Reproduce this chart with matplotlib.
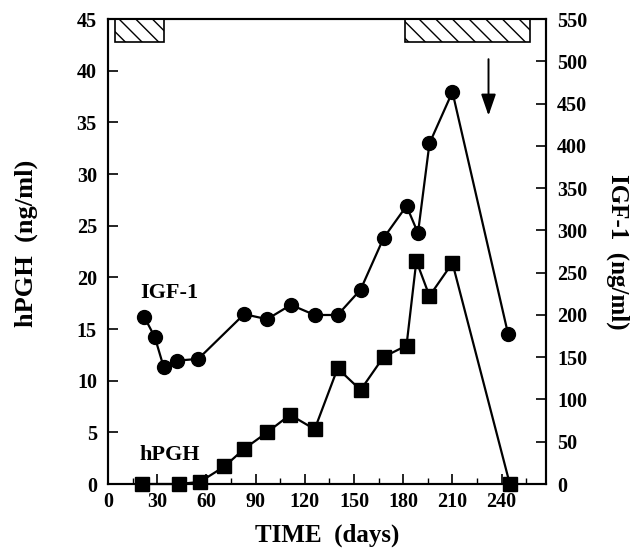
import matplotlib
matplotlib.use("Agg")
import matplotlib.pyplot as plt
from matplotlib.patches import Rectangle
from matplotlib.ticker import MultipleLocator

plt.rcParams['font.family'] = ['Liberation Serif', 'DejaVu Serif']
plt.rcParams['font.weight'] = 'bold'

# hPGH (ng/ml), left axis
hpgh_days = [21, 43, 56, 71, 83, 97, 111, 126, 140, 154, 168, 182, 188, 196, 210, 245]
hpgh_vals = [0, 0, 0.2, 1.7, 3.4, 5.0, 6.7, 5.3, 11.2, 9.1, 12.3, 13.4, 21.6, 18.2, 21.4, 0]

# IGF-1 (ng/ml), right axis
igf_days = [22, 28.5, 34, 42, 55, 83, 97, 111.5, 126, 140, 154, 168, 182, 189, 196, 210, 244]
igf_vals = [198, 174, 138, 146, 148, 201, 195, 212, 200, 200, 230, 291, 329, 297, 403, 464, 177]

# treatment periods (days) shown as hatched bars at the top
periods = [(4, 34), (181, 257)]
arrow_day = 232

xticks = [0, 30, 60, 90, 120, 150, 180, 210, 240]
left_ticks = [0, 5, 10, 15, 20, 25, 30, 35, 40, 45]
right_ticks = [0, 50, 100, 150, 200, 250, 300, 350, 400, 450, 500, 550]

fig = plt.figure(figsize=(6.43, 5.6), dpi=100)
ax = fig.add_axes([0.168, 0.1357, 0.681, 0.830])
ax2 = ax.twinx()

ax.set_xlim(0, 267)
ax.set_ylim(0, 45)
ax2.set_ylim(0, 550)

ax.plot(hpgh_days, hpgh_vals, '-', color='black', lw=1.6, marker='s', ms=9.5,
        mfc='black', mec='black', clip_on=False, zorder=5)
ax2.plot(igf_days, igf_vals, '-', color='black', lw=1.6, marker='o', ms=10,
         mfc='black', mec='black', clip_on=False, zorder=5)

for (a, b) in periods:
    ax.add_patch(Rectangle((a, 42.8), b - a, 2.2, facecolor='white', edgecolor='black',
                           hatch='\\\\', lw=1.2, zorder=6))

ax.annotate('', xy=(arrow_day, 35.4), xytext=(arrow_day, 41.4),
            arrowprops=dict(arrowstyle='-|>,head_width=0.45,head_length=1.3',
                            color='black', lw=1.4))

ax.text(37.5, 18.5, 'IGF-1', ha='center', va='center', fontsize=16, fontweight='bold')
ax.text(37.5, 2.8, 'hPGH', ha='center', va='center', fontsize=16, fontweight='bold')

ax.set_xticks(xticks)
ax.xaxis.set_minor_locator(MultipleLocator(15))
ax.set_yticks(left_ticks)
ax2.set_yticks(right_ticks)

ax.tick_params(axis='x', which='major', direction='in', length=7, width=1.2, labelsize=14.5, pad=6)
ax.tick_params(axis='x', which='minor', direction='in', length=4, width=1.0)
ax.tick_params(axis='y', which='major', direction='in', length=7, width=1.2, labelsize=14.5, pad=8)
ax2.tick_params(axis='y', which='major', direction='in', length=7, width=1.2, labelsize=14.5, pad=8)
for lab in ax.get_xticklabels() + ax.get_yticklabels() + ax2.get_yticklabels():
    lab.set_fontweight('bold')

for a in (ax, ax2):
    for s in a.spines.values():
        s.set_linewidth(1.5)

ax.set_xlabel('TIME  (days)', fontsize=18, fontweight='bold', labelpad=8)
ax.set_ylabel('hPGH  (ng/ml)', fontsize=19, fontweight='bold')
ax.yaxis.set_label_coords(-0.16, 0.518)
ax2.set_ylabel('IGF-1  (ng/ml)', fontsize=18, fontweight='bold', rotation=270, labelpad=30)

fig.savefig('out.png', dpi=100)
